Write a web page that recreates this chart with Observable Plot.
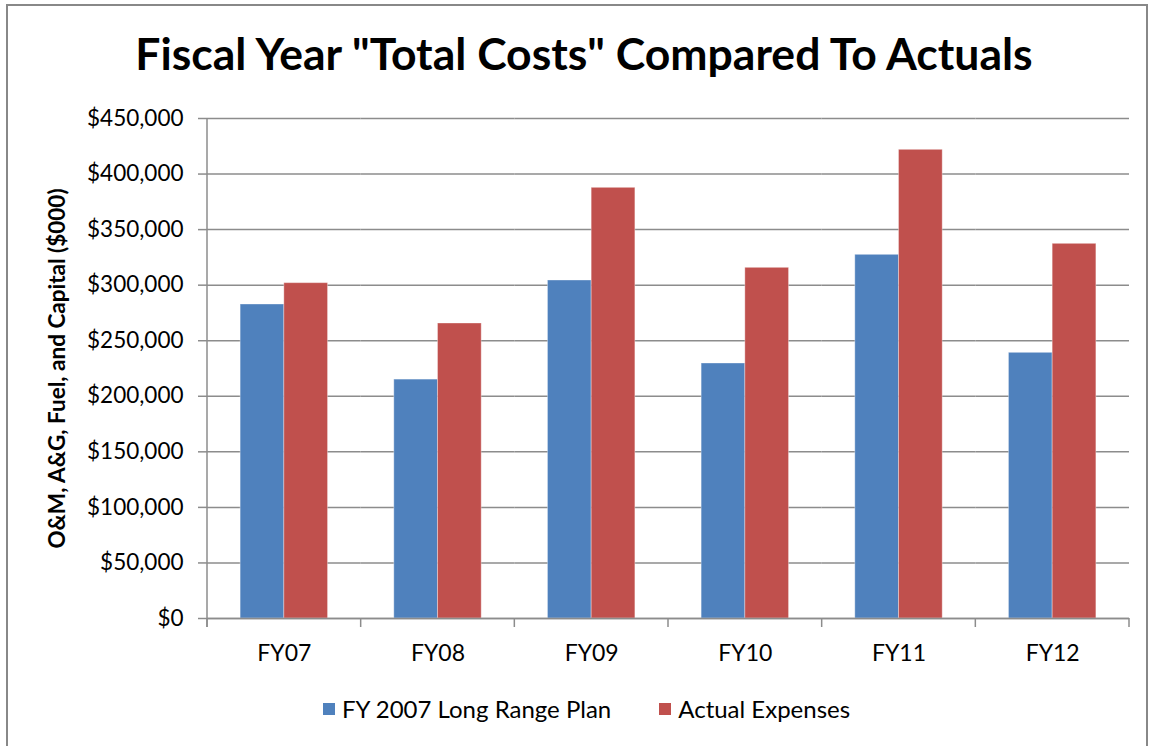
<!DOCTYPE html>
<html>
<head>
<meta charset="utf-8">
<script src="https://cdn.jsdelivr.net/npm/d3@7"></script>
<script src="https://cdn.jsdelivr.net/npm/@observablehq/plot@0.6"></script>
<style>
  html, body { margin: 0; padding: 0; background: #fff; }
  #wrap { position: relative; width: 1154px; height: 746px; overflow: hidden; font-family: Lato, "Open Sans", sans-serif; }
  #border { position: absolute; left: 6px; top: 4px; width: 1142px; height: 760px; border: 2px solid #888; box-sizing: border-box; }
  #title { position: absolute; left: 0; width: 1168px; top: 26px; text-align: center; font-weight: bold; font-size: 44.5px; color: #000; }
  #chart { position: absolute; left: 0; top: 0; }
  #legend { position: absolute; top: 694px; left: 323px; display: flex; font-size: 24px; color: #000; }
  .item { display: flex; align-items: center; margin: 0 48px 0 0; }
  .sw { width: 12px; height: 12px; margin-right: 7px; }
</style>
</head>
<body>
<div id="wrap">
  <div id="border"></div>
  <div id="chart"></div>
  <div id="title">Fiscal Year "Total Costs" Compared To Actuals</div>
  <div id="legend"></div>
</div>
<script>
const categories = ["FY07", "FY08", "FY09", "FY10", "FY11", "FY12"];
const seriesNames = ["FY 2007 Long Range Plan", "Actual Expenses"];
const planValues = [282600, 215000, 304200, 229500, 327300, 239100];
const actualValues = [301800, 265500, 387600, 315600, 421800, 337200];
const yTicks = [0, 50000, 100000, 150000, 200000, 250000, 300000, 350000, 400000, 450000];
const seriesColors = ["#4F81BD", "#C0504D"];
const yLabel = "O&M, A&G, Fuel, and Capital ($000)";

const data = [];
categories.forEach((c, i) => {
  data.push({cat: c, series: seriesNames[0], value: planValues[i]});
  data.push({cat: c, series: seriesNames[1], value: actualValues[i]});
});

const W = 1154, H = 680, mL = 207, mR = 25, mT = 118, mB = 62;
const gray = "#8c8c8c";
const fmt = d => "$" + d3.format(",")(d);

const chart = Plot.plot({
  width: W, height: H,
  marginLeft: mL, marginRight: mR, marginTop: mT, marginBottom: mB,
  style: {fontFamily: "Lato, 'Open Sans', sans-serif", background: "transparent", color: "#000"},
  fx: {domain: categories, padding: 0, round: false},
  x: {domain: seriesNames, paddingInner: 0, paddingOuter: 0.758, round: false, axis: null},
  y: {domain: [0, 450000], axis: null},
  color: {domain: seriesNames, range: seriesColors},
  marks: [
    Plot.gridY(yTicks, {stroke: gray, strokeOpacity: 1, strokeWidth: 1.5}),
    Plot.barY(data, {fx: "cat", x: "series", y: "value", fill: "series", stroke: "white", strokeOpacity: 0.35, strokeWidth: 1}),
    Plot.ruleY([0], {stroke: gray, strokeWidth: 1.5}),
    Plot.axisFx({anchor: "bottom", tickSize: 0, tickPadding: 26, fontSize: 23, label: null}),
    Plot.axisY(yTicks, {anchor: "left", tickSize: 9, tickPadding: 15, tickFormat: fmt, fontSize: 22.5,
      stroke: gray, strokeWidth: 1.5, fill: "black",
      label: yLabel, labelArrow: "none", labelAnchor: "center", labelOffset: 158})
  ]
});

document.getElementById("chart").appendChild(chart);

const svg = d3.select(chart);
// bold y-axis label, strip any arrow
svg.selectAll('[aria-label="y-axis label"]').attr("font-weight", "bold").attr("font-size", 22.5);
svg.selectAll('[aria-label="y-axis label"] text').each(function() {
  const t = d3.select(this);
  t.text(t.text().replace(/\s*[↑→←↓]\s*/g, ""));
});

// Y axis line and category-boundary ticks, positioned via Plot's own scales
const sy = chart.scale("y");
const sfx = chart.scale("fx");
const y0 = sy.apply(0), yTop = sy.apply(450000);
const bounds = categories.map(c => sfx.apply(c));
bounds.push(sfx.apply(categories[categories.length - 1]) + sfx.bandwidth);
const g = svg.append("g").attr("stroke", gray).attr("stroke-width", 1.5);
g.append("line").attr("x1", bounds[0]).attr("x2", bounds[0]).attr("y1", yTop).attr("y2", y0 + 9);
bounds.forEach(b => g.append("line").attr("x1", b).attr("x2", b).attr("y1", y0).attr("y2", y0 + 9));

// legend
const legend = d3.select("#legend");
seriesNames.forEach((s, i) => {
  const it = legend.append("div").attr("class", "item");
  it.append("div").attr("class", "sw").style("background", seriesColors[i]);
  it.append("span").text(s);
});
</script>
</body>
</html>
